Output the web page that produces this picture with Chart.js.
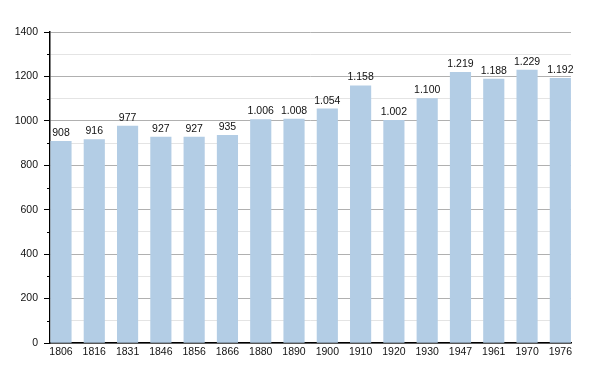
<!DOCTYPE html>
<html>
<head>
<meta charset="utf-8">
<script src="https://cdn.jsdelivr.net/npm/chart.js@4/dist/chart.umd.min.js"></script>
<style>
  html, body { margin: 0; padding: 0; background: #fff; }
  #wrap { width: 600px; height: 373px; }
</style>
</head>
<body>
<div id="wrap"><canvas id="chart" width="600" height="373"></canvas></div>
<script>
// === データ ===
const years = ["1806","1816","1831","1846","1856","1866","1880","1890","1900","1910","1920","1930","1947","1961","1970","1976"];
const population = [908,916,977,927,927,935,1006,1008,1054,1158,1002,1100,1219,1188,1229,1192];
const yTicks = [0,200,400,600,800,1000,1200,1400];

const BAR = "#b3cde5";
const FONT = "'Liberation Sans', Arial, sans-serif";

// 1.006 のようにドット区切り
const fmt = v => String(v).replace(/\B(?=(\d{3})+(?!\d))/g, ".");
const isMajor = v => yTicks.includes(v);

// === 値ラベル・補助目盛 ===
const valueLabels = {
  id: "valueLabels",
  afterDatasetsDraw(chart) {
    const ctx = chart.ctx;
    const meta = chart.getDatasetMeta(0);
    ctx.save();
    ctx.font = "10.5px " + FONT;
    ctx.fillStyle = "#111";
    ctx.textAlign = "center";
    ctx.textBaseline = "bottom";
    meta.data.forEach((bar, i) => {
      ctx.fillText(fmt(population[i]), bar.x, bar.y - 3);
    });
    // 短い補助目盛
    const y = chart.scales.y;
    ctx.strokeStyle = "#000";
    ctx.lineWidth = 1;
    y.ticks.forEach(t => {
      if (isMajor(t.value)) return;
      const py = Math.round(y.getPixelForValue(t.value)) + 0.5;
      ctx.beginPath();
      ctx.moveTo(y.right - 3, py);
      ctx.lineTo(y.right, py);
      ctx.stroke();
    });
    ctx.restore();
  }
};

new Chart(document.getElementById("chart"), {
  type: "bar",
  data: {
    datasets: [{
      data: population.map((v, i) => ({ x: i, y: v })),
      backgroundColor: BAR,
      borderWidth: 0,
      barThickness: 20.5
    }]
  },
  options: {
    responsive: false,
    animation: false,
    events: [],
    layout: { padding: { top: 32, right: 29, left: 0, bottom: 0 } },
    plugins: { legend: { display: false }, tooltip: { enabled: false } },
    scales: {
      x: {
        type: "linear",
        offset: false,
        min: -0.33,
        max: 15.32,
        afterBuildTicks: s => { s.ticks = years.map((_, i) => ({ value: i })); },
        afterFit: s => { s.height = 30; },
        grid: { display: false, drawTicks: false, tickLength: 0 },
        border: { display: true, color: "#000", width: 1.5 },
        ticks: {
          autoSkip: false,
          maxRotation: 0,
          padding: 3,
          color: "#111",
          font: { family: FONT, size: 10.5 },
          callback: v => years[v]
        }
      },
      y: {
        min: 0,
        max: 1400,
        afterBuildTicks: s => {
          const t = [];
          for (let v = 0; v <= 1400; v += 100) t.push({ value: v });
          s.ticks = t;
        },
        afterFit: s => { s.width = 50; },
        border: { display: true, color: "#000", width: 1.5 },
        grid: {
          color: c => c.tick && isMajor(c.tick.value) ? "#b0b0b0" : "#e4e4e4",
          tickColor: c => c.tick && isMajor(c.tick.value) ? "#000" : "rgba(0,0,0,0)",
          tickLength: 6,
          lineWidth: 1
        },
        ticks: {
          padding: 6,
          color: "#111",
          font: { family: FONT, size: 10.5 },
          callback: v => isMajor(v) ? String(v) : ""
        }
      }
    }
  },
  plugins: [valueLabels]
});
</script>
</body>
</html>
